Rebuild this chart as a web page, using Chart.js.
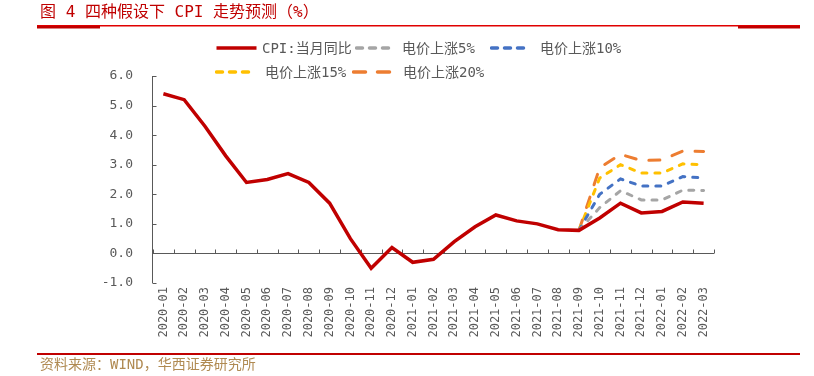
<!DOCTYPE html>
<html><head><meta charset="utf-8">
<script src="https://cdn.jsdelivr.net/npm/chart.js@4.4.1/dist/chart.umd.min.js"></script>
<style>
body{margin:0;background:#fff;}
#wrap{position:relative;width:814px;height:376px;overflow:hidden;background:#fff;}
#c{position:absolute;left:0;top:0;z-index:0;}
.t{position:absolute;white-space:nowrap;font-family:"DejaVu Sans Mono","Noto Sans CJK SC",monospace;z-index:2;}
.lg{position:absolute;height:16px;z-index:2;}
.lg svg{position:absolute;left:0;top:0;}
</style></head>
<body>
<div id="wrap">
  <canvas id="c" width="814" height="376"></canvas>
  <div class="t" style="left:40px;top:2px;font-size:16px;line-height:20px;color:#c00000;">图 4 四种假设下 CPI 走势预测（%）</div>
  <div class="t" style="left:40px;top:355px;font-size:14px;line-height:18px;color:#b08a52;">资料来源：WIND，华西证券研究所</div>
  <div id="legend"></div>
</div>
<script>
const labels = ['2020-01','2020-02','2020-03','2020-04','2020-05','2020-06','2020-07','2020-08','2020-09','2020-10','2020-11','2020-12',
                '2021-01','2021-02','2021-03','2021-04','2021-05','2021-06','2021-07','2021-08','2021-09','2021-10','2021-11','2021-12',
                '2022-01','2022-02','2022-03'];
const seriesNames = ['CPI:当月同比','电价上涨5%','电价上涨10%','电价上涨15%','电价上涨20%'];
const cpi    = [5.4,5.2,4.3,3.3,2.4,2.5,2.7,2.4,1.7,0.5,-0.5,0.2,-0.3,-0.2,0.4,0.9,1.3,1.1,1.0,0.8,0.78,1.2,1.7,1.37,1.42,1.74,1.7];
const pre = new Array(20).fill(null);
const up5  = pre.concat([0.78,1.55,2.12,1.81,1.81,2.14,2.13]);
const up10 = pre.concat([0.78,2.0,2.52,2.28,2.28,2.6,2.55]);
const up15 = pre.concat([0.78,2.55,3.0,2.72,2.72,3.03,3.0]);
const up20 = pre.concat([0.78,2.9,3.35,3.14,3.16,3.46,3.45]);
const yTicks = [-1,0,1,2,3,4,5,6];

const colors = ['#c00000','#a5a5a5','#4472c4','#ffc000','#ed7d31'];
const dashes = [[],[5,8],[5,8],[5,8],[11,13]];
const values = [cpi, up5, up10, up15, up20];

// HTML legend
const lgPos = [[215,48,43],[355,48,37],[490,48,40],[215,72,40],[352,72,43]];
const lgTextX = [262,402,540,265,403];
const legend = document.getElementById('legend');
seriesNames.forEach((n,i)=>{
  const [x,y,w] = lgPos[i];
  const d = document.createElement('div');
  d.className='lg';
  d.style.left = x+'px'; d.style.top=(y-8)+'px';
  const da = dashes[i].length ? `stroke-dasharray="${dashes[i][0]+1} ${dashes[i][1]-1}"` : '';
  d.innerHTML = `<svg width="${w+4}" height="16"><line x1="1.5" y1="8" x2="${w-1.5}" y2="8" stroke="${colors[i]}" stroke-width="3.5" stroke-linecap="${i?'round':'butt'}" ${da}/></svg>`;
  legend.appendChild(d);
  const t = document.createElement('div');
  t.className='t';
  t.style.left = lgTextX[i]+'px'; t.style.top=(y-9)+'px';
  t.style.fontSize='14px'; t.style.lineHeight='18px'; t.style.color='#595959';
  t.textContent = n;
  legend.appendChild(t);
});

const frameRules = {
  id:'frameRules',
  afterDraw(chart){
    const ctx = chart.ctx;
    ctx.save();
    ctx.fillStyle = '#e00000';
    ctx.fillRect(37, 25, 763, 1.5);
    ctx.fillStyle = '#c00000';
    ctx.fillRect(37, 26, 63, 2.5);
    ctx.fillRect(738, 26, 62, 2.5);
    ctx.fillRect(37, 353, 763, 2);
    ctx.restore();
  }
};

const axisDecor = {
  id:'axisDecor',
  beforeDatasetsDraw(chart){
    const {ctx, chartArea:a, scales:{x,y}} = chart;
    ctx.save();
    ctx.strokeStyle='#595959'; ctx.lineWidth=1;
    ctx.beginPath();
    const lx = Math.round(a.left)-0.5;
    ctx.moveTo(lx, a.top); ctx.lineTo(lx, a.bottom);
    yTicks.forEach(v=>{
      const py = Math.round(y.getPixelForValue(v))+0.5;
      ctx.moveTo(lx, py); ctx.lineTo(lx+4, py);
    });
    const y0 = Math.round(y.getPixelForValue(0))+0.5;
    ctx.moveTo(lx, y0); ctx.lineTo(a.right, y0);
    for(let i=0;i<=labels.length;i++){
      const px = Math.round(x.getPixelForValue(i-0.5))+0.5;
      ctx.moveTo(px, y0); ctx.lineTo(px, y0-4);
    }
    ctx.stroke();
    ctx.restore();
  }
};

new Chart(document.getElementById('c'), {
  type:'line',
  data:{
    labels,
    datasets: values.map((v,i)=>({
      label: seriesNames[i],
      data: v,
      borderColor: colors[i],
      backgroundColor: colors[i],
      borderWidth: i===0 ? 3.5 : 3,
      borderDash: dashes[i],
      borderCapStyle: i===0 ? 'butt' : 'round',
      pointRadius: 0,
      tension: 0,
      fill: false,
      spanGaps: false
    }))
  },
  options:{
    responsive:false,
    devicePixelRatio:1,
    animation:false,
    layout:{padding:{top:76,right:100,bottom:0,left:0}},
    plugins:{legend:{display:false},tooltip:{enabled:false},title:{display:false}},
    scales:{
      x:{
        type:'category',
        offset:true,
        grid:{display:false,drawTicks:false},
        border:{display:false},
        ticks:{autoSkip:false,minRotation:90,maxRotation:90,padding:4,color:'#595959',
               font:{family:'"DejaVu Sans Mono", monospace',size:12}},
        afterFit(s){ s.height = 93; }
      },
      y:{
        min:-1,max:6,
        grid:{display:false,drawTicks:false},
        border:{display:false},
        ticks:{stepSize:1,padding:20,color:'#595959',
               font:{family:'"DejaVu Sans Mono", monospace',size:13},
               callback:v=>Number(v).toFixed(1)},
        afterFit(s){ s.width = 153; }
      }
    }
  },
  plugins:[axisDecor, frameRules]
});
</script>
</body></html>
